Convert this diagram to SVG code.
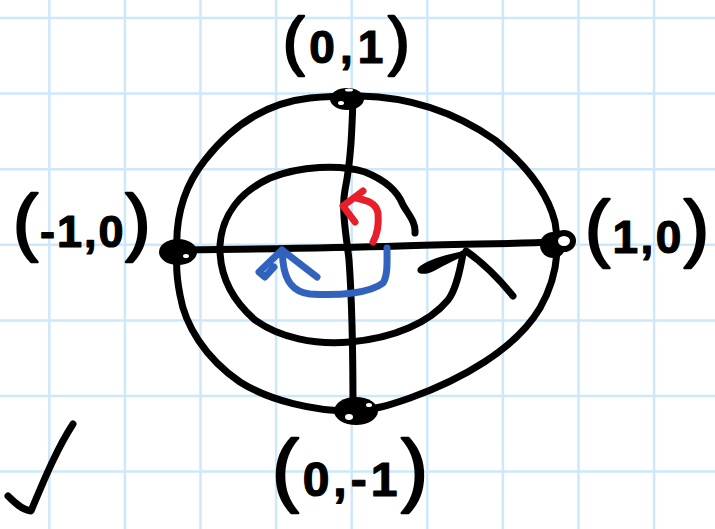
<svg xmlns="http://www.w3.org/2000/svg" width="715" height="529" viewBox="0 0 715 529">
<style>
.grid line{stroke:#cde8fb;stroke-width:2.5}
.ink{fill:none;stroke:#000;stroke-width:7;stroke-linecap:round;stroke-linejoin:round}
.red{fill:none;stroke:#e81f2a;stroke-width:7;stroke-linecap:round;stroke-linejoin:round}
.blue{fill:none;stroke:#3163be;stroke-width:7;stroke-linecap:round;stroke-linejoin:round}
.lbl{font-family:"Liberation Sans",Arial,sans-serif;font-weight:bold;fill:#000;stroke:#000;stroke-width:1.2;stroke-linejoin:round}
.p{font-weight:normal;stroke-width:2.5}
.dot{fill:#000}
.hole{fill:#fff}
</style>
<rect width="715" height="529" fill="#fff"/>
<g class="grid">
<line x1="49.3" y1="0" x2="49.3" y2="529"/>
<line x1="124.9" y1="0" x2="124.9" y2="529"/>
<line x1="200.5" y1="0" x2="200.5" y2="529"/>
<line x1="276.1" y1="0" x2="276.1" y2="529"/>
<line x1="351.7" y1="0" x2="351.7" y2="529"/>
<line x1="427.3" y1="0" x2="427.3" y2="529"/>
<line x1="502.9" y1="0" x2="502.9" y2="529"/>
<line x1="578.5" y1="0" x2="578.5" y2="529"/>
<line x1="654.1" y1="0" x2="654.1" y2="529"/>
<line x1="0" y1="18" x2="715" y2="18"/>
<line x1="0" y1="93.6" x2="715" y2="93.6"/>
<line x1="0" y1="169.2" x2="715" y2="169.2"/>
<line x1="0" y1="244.8" x2="715" y2="244.8"/>
<line x1="0" y1="320.4" x2="715" y2="320.4"/>
<line x1="0" y1="396" x2="715" y2="396"/>
<line x1="0" y1="471.6" x2="715" y2="471.6"/>
</g>
<g id="connectors">
<path id="outer-circle" class="ink" d="M177,252 C175,215 185,185 205,160 C230,128 265,103 310,98 C330,96 345,96 360,96 C410,97 455,112 495,140 C530,168 548,195 555,222 C560,250 556,280 540,308 C515,350 460,380 410,398 C390,405 375,410 350,411 C315,411 270,401 240,382 C205,358 185,325 180,295 C177,280 176,265 177,252 Z"/>
<path id="inner-circle" class="ink" d="M415,233 C416,222 408,214 403,205 C398,192 385,180 365,172 C340,164 300,166 270,178 C240,192 222,215 220,245 C219,275 232,300 255,320 C280,338 315,345 350,342 C395,338 430,322 448,300 C456,290 460,270 463,254"/>
<path class="dot" d="M464,251 C448,254 426,260 418,268 C415,274 424,276 434,271 C445,265 456,259 465,256 Z"/>
<path class="ink" d="M466,251 C482,262 500,280 513,296"/>
<path id="x-axis" class="ink" d="M180,250 C260,249 330,248 400,246 C460,244 510,244 555,242"/>
<path id="y-axis" class="ink" d="M353,98 C352,130 351,160 345,190 C341,210 347,240 349,260 C352,300 353,360 353,412"/>
<path id="red-arrow" class="red" d="M356,198 C365,200 376,202 378,213 C379,225 377,235 373,242 M363,191 L343,206 L355,222"/>
<path id="blue-arrow" class="blue" d="M387,248 C387,262 388,275 383,283 C370,293 340,296 310,294 C292,292 285,280 283,262 L282,250 M282,250 L317,277 M282,250 L259,272 L265,277 L274,267"/>
</g>
<g id="point-top">
<ellipse class="dot" cx="347" cy="99" rx="17" ry="11"/>
<ellipse class="hole" cx="341" cy="103" rx="3" ry="2"/>
<ellipse class="hole" cx="349" cy="90" rx="4" ry="1.5"/>
<text class="lbl" x="283" y="63" font-size="46" letter-spacing="5"><tspan class="p" font-size="64">(</tspan>0,1<tspan class="p" font-size="64">)</tspan></text>
</g>
<g id="point-left">
<ellipse class="dot" cx="178" cy="252" rx="19" ry="13"/>
<ellipse class="hole" cx="186" cy="256" rx="3" ry="2"/>
<text class="lbl" x="13" y="247" font-size="45" letter-spacing="2"><tspan class="p" font-size="75">(</tspan>-1,0<tspan class="p" font-size="75">)</tspan></text>
</g>
<g id="point-right">
<circle class="dot" cx="553" cy="245" r="13"/>
<ellipse cx="564" cy="241" rx="9" ry="8" fill="#fff" stroke="#000" stroke-width="6"/>
<text class="lbl" x="585" y="253" font-size="46" letter-spacing="2.5"><tspan class="p" font-size="75">(</tspan>1,0<tspan class="p" font-size="75">)</tspan></text>
</g>
<g id="point-bottom">
<ellipse class="dot" cx="356" cy="411" rx="22" ry="14"/>
<ellipse class="hole" cx="349" cy="417" rx="4" ry="3"/>
<ellipse class="hole" cx="369" cy="405" rx="3" ry="2"/>
<text class="lbl" x="272" y="496" font-size="48" letter-spacing="4"><tspan class="p" font-size="80">(</tspan>0,-1<tspan class="p" font-size="80">)</tspan></text>
</g>
<path id="check" class="ink" d="M8,496 C14,502 22,510 31,511 C42,485 56,450 73,424"/>
</svg>
